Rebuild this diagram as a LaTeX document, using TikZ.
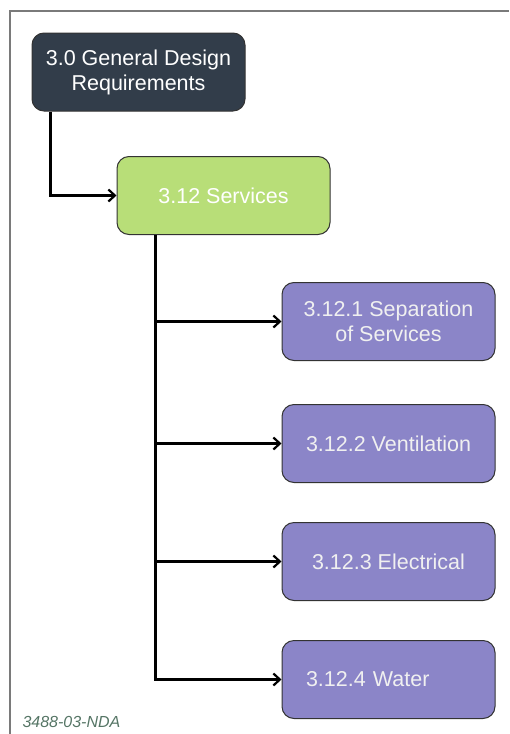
\documentclass[tikz,border=0pt]{standalone}
\usepackage{fontspec}
\setmainfont{Liberation Sans}
\usetikzlibrary{arrows.meta}

\definecolor{topblue}{HTML}{323D4A}
\definecolor{midgreen}{HTML}{B8DE78}
\definecolor{leafpurple}{HTML}{8B85C8}
\definecolor{framegray}{HTML}{7A7A7A}
\definecolor{taggreen}{HTML}{557565}

\begin{document}
\begin{tikzpicture}[x=1pt,y=-1pt,font=\fontsize{21.5}{25}\selectfont]
\tikzset{
% One box style, three fills
box/.style={rectangle,rounded corners=12pt,draw=black!80,line width=1pt,
  minimum width=213pt,minimum height=78pt,align=center,text=white,inner sep=0pt},
top box/.style={box,fill=topblue},
mid box/.style={box,fill=midgreen},
leaf box/.style={box,fill=leafpurple,text=white!94!black},
link/.style={line width=2.8pt,-{Straight Barb[length=6.5pt,width=12pt,line width=2.2pt]}}
}
\useasboundingbox (0,0) rectangle (509,734);

% page frame
\draw[framegray,line width=1.2pt] (10,734) -- (10,11) -- (509,11);

% The boxes
\node(0)[top box] at (138.5,72) {3.0 General Design\\Requirements};
\node(1)[mid box] at (223.5,195.5) {3.12 Services};
\node(2)[leaf box] at (388.5,321.5) {3.12.1 Separation\\of Services};
\node(3)[leaf box] at (388.5,443.5) {3.12.2 Ventilation};
\node(4)[leaf box] at (388.5,561.5) {3.12.3 Electrical};
\node(5)[leaf box,text width=165pt,align=left] at (388.5,679.5) {3.12.4 Water};

% connectors
\draw[link] ([xshift=19pt]0.south west) |- (1.west);
\foreach \n in {2,...,5}
  \draw[link] ([xshift=39pt]1.south west) |- (\n.west);

% drawing tag
\node(tag)[anchor=west,text=taggreen,font=\fontsize{16}{18}\selectfont\itshape] at (19,722) {3488-03-NDA};
\end{tikzpicture}
\end{document}
